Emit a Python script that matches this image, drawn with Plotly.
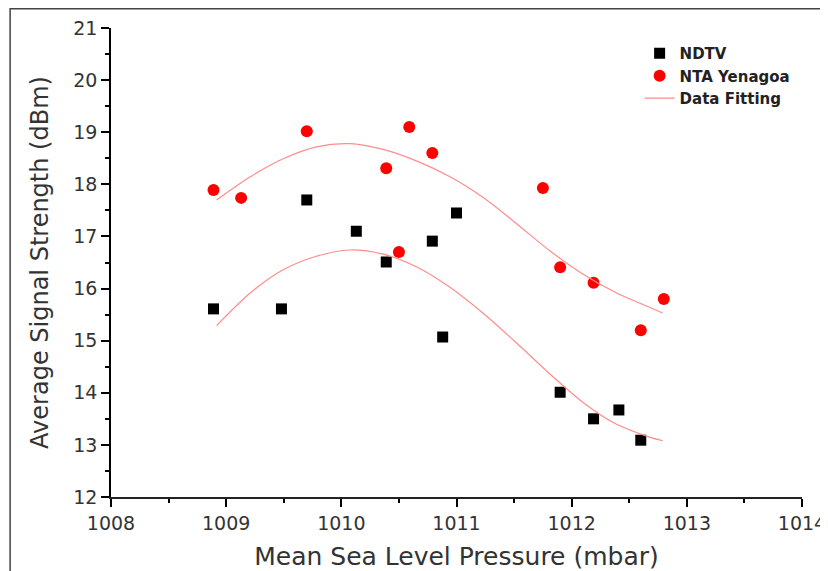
import plotly.graph_objects as go

# Measured data
ndtv_x = [1008.89, 1009.48, 1009.70, 1010.13, 1010.39, 1010.79, 1011.00, 1010.88, 1011.90, 1012.19, 1012.41, 1012.60]
ndtv_y = [15.61, 15.61, 17.70, 17.10, 16.51, 16.91, 17.45, 15.07, 14.01, 13.50, 13.67, 13.09]

nta_x = [1008.89, 1009.13, 1009.70, 1010.39, 1010.50, 1010.59, 1010.79, 1011.75, 1011.90, 1012.19, 1012.60, 1012.80]
nta_y = [17.89, 17.74, 19.02, 18.31, 16.70, 19.10, 18.60, 17.93, 16.41, 16.11, 15.20, 15.80]

# Fitted curves
fit_x = [1008.917, 1009.206, 1009.494, 1009.784, 1010.073, 1010.362, 1010.651, 1010.940,
         1011.229, 1011.519, 1011.807, 1012.096, 1012.386, 1012.675, 1012.790]
fit_nta_y = [17.70, 18.14, 18.49, 18.72, 18.78, 18.67, 18.45, 18.15,
             17.75, 17.25, 16.73, 16.28, 15.92, 15.64, 15.53]
fit_ndtv_y = [15.29, 15.91, 16.36, 16.62, 16.74, 16.66, 16.42, 16.03,
              15.53, 14.96, 14.37, 13.82, 13.40, 13.15, 13.08]

x_ticks = [1008, 1009, 1010, 1011, 1012, 1013, 1014]
y_ticks = [12, 13, 14, 15, 16, 17, 18, 19, 20, 21]

FONT = "DejaVu Sans, Liberation Sans, Arial, sans-serif"
fit_color = "#ff8c8c"

fig = go.Figure()
fig.add_trace(go.Scatter(x=ndtv_x, y=ndtv_y, mode="markers", name="<b>NDTV</b>",
                         marker=dict(symbol="square", size=11, color="black")))
fig.add_trace(go.Scatter(x=nta_x, y=nta_y, mode="markers", name="<b>NTA Yenagoa</b>",
                         marker=dict(symbol="circle", size=12, color="#ff0000")))
fig.add_trace(go.Scatter(x=fit_x, y=fit_nta_y, mode="lines", name="<b>Data Fitting</b>",
                         line=dict(color=fit_color, width=1.2, shape="spline", smoothing=0.8)))
fig.add_trace(go.Scatter(x=fit_x, y=fit_ndtv_y, mode="lines", name="Data Fitting",
                         showlegend=False, line=dict(color=fit_color, width=1.2, shape="spline", smoothing=0.8)))

fig.update_layout(
    width=820, height=563,
    margin=dict(l=103, r=26, t=20, b=74),
    paper_bgcolor="white", plot_bgcolor="white",
    font=dict(family=FONT, color="#222"),
    showlegend=True,
    legend=dict(x=0.765, y=0.981, xanchor="left", yanchor="top",
                font=dict(family=FONT, size=15, color="#222"),
                bgcolor="rgba(0,0,0,0)", tracegroupgap=0, itemwidth=30),
    xaxis=dict(range=[1008, 1014], tickvals=x_ticks, ticktext=[str(v) for v in x_ticks],
               automargin=False,
               showgrid=False, zeroline=False, showline=True, linecolor="#222", linewidth=2,
               ticks="outside", ticklen=8, tickwidth=1.5, tickcolor="black",
               minor=dict(dtick=0.5, ticks="outside", ticklen=4, tickcolor="black", tickwidth=1.5),
               tickfont=dict(size=19, color="#333"),
               title=dict(text="Mean Sea Level Pressure (mbar)", font=dict(size=25, color="#333"), standoff=16)),
    yaxis=dict(range=[12, 21], tickvals=y_ticks, ticktext=[str(v) for v in y_ticks],
               automargin=False,
               showgrid=False, zeroline=False, showline=True, linecolor="black", linewidth=1.5,
               ticks="outside", ticklen=8, tickwidth=1.5, tickcolor="black",
               minor=dict(dtick=0.5, ticks="outside", ticklen=4, tickcolor="black", tickwidth=1.5),
               tickfont=dict(size=19, color="#333"),
               title=dict(text="Average Signal Strength (dBm)", font=dict(size=24, color="#333"), standoff=18)),
    shapes=[dict(type="rect", xref="paper", yref="paper", x0=-0.146, x1=1.028, y0=-0.2, y1=1.041,
                 line=dict(color="#444", width=1.5), fillcolor="rgba(0,0,0,0)", layer="below")],
)

fig.write_html("out.html")
